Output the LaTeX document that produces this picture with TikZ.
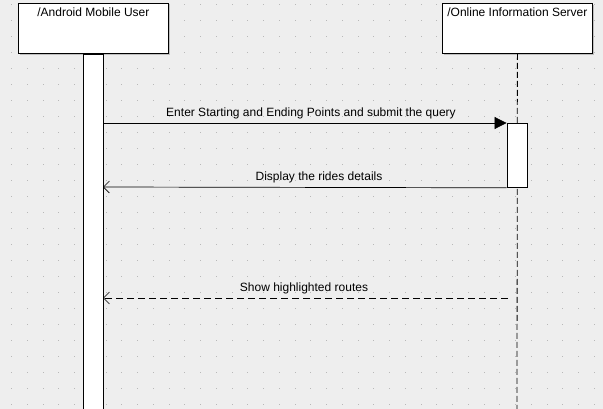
\documentclass[tikz,border=0pt]{standalone}
\usepackage{fontspec}
\setmainfont{Liberation Sans}
\usetikzlibrary{arrows.meta}
\definecolor{bg}{HTML}{EEEEEE}
\definecolor{dotc}{HTML}{B8B8B8}
\tikzset{
  px/.style={x=1pt,y=-1pt},
  lifebox/.style={draw=black,fill=white,line width=0.8pt,minimum width=150pt,minimum height=50pt,inner sep=0pt,anchor=north west},
  actbar/.style={draw=black,fill=white,line width=0.8pt},
  msg/.style={draw=black,line width=0.7pt},
  lbl/.style={font=\fontsize{12}{14}\selectfont,inner sep=1pt,anchor=south},
  boxlbl/.style={font=\fontsize{12}{14}\selectfont,inner sep=0pt,anchor=north},
}
\begin{document}
\begin{tikzpicture}[px]
\useasboundingbox (0,0) rectangle (603,409);
\fill[bg] (0,0) rectangle (603,409);
\foreach \i in {0,...,37}{
  \foreach \j in {0,...,25}{
    \fill[dotc] ({11+15.75*\i},{4+16*\j}) rectangle ++(1,1);
  }
}
% shadows
\fill[gray!50] (20,5) rectangle (170,55);
\fill[gray!50] (444,5) rectangle (594,55);
% lifeline boxes
\node[lifebox] (u) at (18,3) {};
\node[lifebox] (s) at (442,3) {};
\node[boxlbl] at ([yshift=-5pt]u.north) {/Android Mobile User};
\node[boxlbl] at ([yshift=-5pt]s.north) {/Online Information Server};
% lifelines
\coordinate (send) at (517,409);
\draw[line width=0.8pt,dash pattern=on 6pt off 3pt] (s.south) -- (send);
\node[actbar,minimum width=20pt,minimum height=357pt,inner sep=0pt,anchor=north] (ua) at (u.south) {};
\node[actbar,minimum width=20pt,minimum height=64pt,inner sep=0pt,anchor=north] (sa) at (517,123) {};
% messages
\coordinate (m1a) at (103,123);
\coordinate (m2b) at (103,187);
\coordinate (m3a) at (508,298);
\coordinate (m3b) at (103,298);
\draw[msg,-{Triangle[length=12pt,width=12pt]}] (m1a) -- (sa.north west);
\node[lbl] at (311,120) {Enter Starting and Ending Points and submit the query};
\draw[msg,-{Straight Barb[length=6pt,width=12pt,line width=0.6pt]}] (sa.south west) -- (m2b);
\node[lbl] at (319,184) {Display the rides details};
\draw[msg,dash pattern=on 7pt off 4pt,-{Straight Barb[length=6pt,width=12pt,line width=0.6pt]}] (m3a) -- (m3b);
\node[lbl] at (304,295) {Show highlighted routes};
\end{tikzpicture}
\end{document}
